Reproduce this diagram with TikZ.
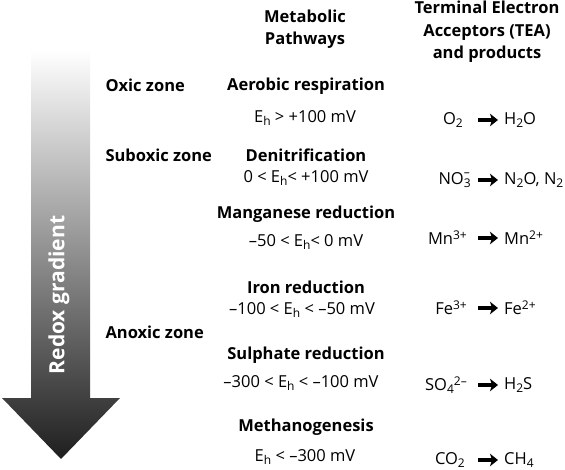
\documentclass[tikz,border=0pt]{standalone}
\usepackage{fontspec}
\setmainfont{Open Sans}
\usetikzlibrary{arrows.meta}
\newcommand{\supx}[1]{\raisebox{0.55ex}{\fontsize{12}{12}\selectfont #1}}
\newcommand{\subx}[1]{\raisebox{-0.35ex}{\fontsize{12}{12}\selectfont #1}}
\newcommand{\stackx}[2]{\rlap{\subx{#1}}\raisebox{0.95ex}{\fontsize{12}{12}\selectfont #2}}

\begin{document}
\begin{tikzpicture}[x=1pt,y=-1pt,font=\fontsize{16.5}{18}\selectfont]
    \tikzstyle{head}=[font=\fontsize{16.5}{22.5}\selectfont\bfseries,align=center]
    \tikzstyle{zone}=[font=\fontsize{16.5}{18}\selectfont\bfseries,anchor=west]
    \tikzstyle{path}=[font=\fontsize{16.5}{18}\selectfont\bfseries]
    \tikzstyle{eh}=[font=\fontsize{16.5}{18}\selectfont]
    \tikzstyle{acc}=[anchor=east,inner sep=0pt]
    \tikzstyle{prod}=[anchor=west,inner sep=0pt]
    \tikzstyle{tea}=[line width=3.2pt,-{Stealth[length=8pt,width=12.5pt,inset=2pt]}]
    \useasboundingbox (0,0) rectangle (565,470);
    % the redox arrow
    \shade[top color=white,middle color=black!70,bottom color=black!88]
      (31,50) -- (90,50) -- (90,398) -- (120,398) -- (61,459)
      -- (2,398) -- (31,398) -- cycle;
    \node[rotate=90,white,font=\fontsize{21}{22}\selectfont\bfseries] (redox) at (59,295) {Redox gradient};
    % headers
    \node[head] (hpath) at (305,29) {Metabolic\\Pathways};
    \node[head] (htea) at (487,32) {Terminal Electron\\Acceptors (TEA)\\and products};
    % zones
    \node[zone] (oxic) at (102,85) {Oxic zone};
    \node[zone] (suboxic) at (102,155) {Suboxic zone};
    \node[zone] (anoxic) at (102,332) {Anoxic zone};
    % pathways
    \node[path] (aer) at (306,86) {Aerobic respiration};
    \node[eh] (aereh) at (305,118) {E\subx{h} > +100 mV};
    \node[path] (den) at (306,155) {Denitrification};
    \node[eh] (deneh) at (306,178) {0 < E\subx{h}< +100 mV};
    \node[path] (mang) at (306,214) {Manganese reduction};
    \node[eh] (mangeh) at (306,242) {–50 < E\subx{h}< 0 mV};
    \node[path] (iron) at (306,287) {Iron reduction};
    \node[eh] (ironeh) at (302,310) {–100 < E\subx{h} < –50 mV};
    \node[path] (sulph) at (306,355) {Sulphate reduction};
    \node[eh] (sulpheh) at (301,383) {–300 < E\subx{h} < –100 mV};
    \node[path] (meth) at (306,427) {Methanogenesis};
    \node[eh] (metheh) at (305,457) {E\subx{h} < –300 mV};
    % acceptors and products
    \node[acc] (o2) at (463,120) {O\subx{2}};
    \node[prod] (h2o) at (504,120) {H\subx{2}O};
    \node[acc] (no3) at (470,180) {NO\stackx{3}{–}};
    \node[prod] (n2o) at (504,180) {N\subx{2}O, N\subx{2}};
    \node[acc] (mn3) at (467,238) {Mn\supx{3+}};
    \node[prod] (mn2) at (504,238) {Mn\supx{2+}};
    \node[acc] (fe3) at (467,308) {Fe\supx{3+}};
    \node[prod] (fe2) at (504,308) {Fe\supx{2+}};
    \node[acc] (so4) at (467,385) {SO\subx{4}\supx{2–}};
    \node[prod] (h2s) at (504,385) {H\subx{2}S};
    \node[acc] (co2) at (465,460) {CO\subx{2}};
    \node[prod] (ch4) at (504,460) {CH\subx{4}};
    % TEA arrows, all in one column
    \foreach \a/\b in {o2/h2o,no3/n2o,mn3/mn2,fe3/fe2,so4/h2s,co2/ch4}
      \draw[tea] (\a.east -| 478,0) -- (\b.west -| 498,0);
\end{tikzpicture}
\end{document}
